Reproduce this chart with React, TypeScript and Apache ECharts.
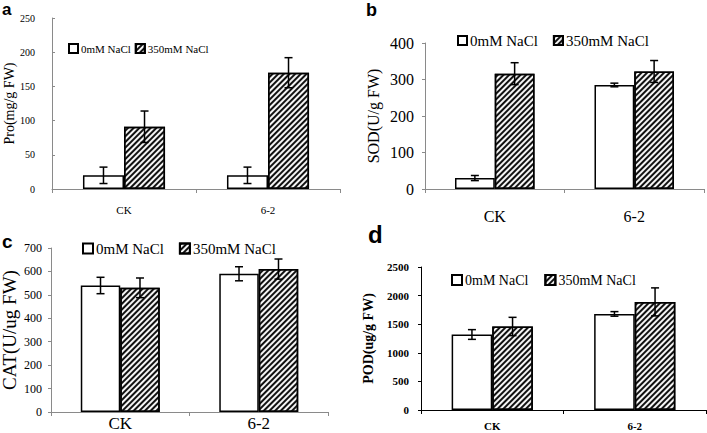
import React, { useEffect, useRef } from "react";
import * as echarts from "echarts";

const categories = ["CK", "6-2"];
const seriesNames = ["0mM NaCl", "350mM NaCl"];

const proCtrl = [20, 20];
const proSalt = [91, 170];
const proCtrlErr = [12, 12];
const proSaltErr = [23, 22];

const sodCtrl = [30, 285];
const sodSalt = [316, 322];
const sodCtrlErr = [7, 5];
const sodSaltErr = [30, 30];

const catCtrl = [540, 590];
const catSalt = [530, 610];
const catCtrlErr = [35, 30];
const catSaltErr = [42, 43];

const podCtrl = [1320, 1680];
const podSalt = [1460, 1890];
const podCtrlErr = [85, 40];
const podSaltErr = [160, 245];

const yMax = [250, 400, 700, 2500];
const yInterval = [50, 100, 100, 500];
const yNames = ["Pro(mg/g FW)", "SOD(U/g FW)", "CAT(U/ug FW)", "POD(ug/g FW)"];
const panelLetters = ["a", "b", "c", "d"];

const SERIF = "'Liberation Serif', 'Times New Roman', serif";
const SANS = "'Liberation Sans', Arial, sans-serif";
const barFrac = 0.285;

const panels = [
  {
    ctrl: proCtrl, salt: proSalt, ctrlErr: proCtrlErr, saltErr: proSaltErr,
    grid: { left: 52, top: 18, width: 288, height: 171 },
    axisColor: "#8a8a8a", tickInside: true, tickFont: 10, tickWeight: "normal", labelMargin: 17,
    catFont: 11, catWeight: "normal", catMargin: 15,
    nameFont: 14, nameWeight: "normal", nameGap: 36,
    legend: { left: 68, top: 43, font: 11, gap: 4, weight: "normal", iw: 9 },
    letter: { x: 2, y: 1, size: 17 },
  },
  {
    ctrl: sodCtrl, salt: sodSalt, ctrlErr: sodCtrlErr, saltErr: sodSaltErr,
    grid: { left: 425, top: 43, width: 279, height: 146 },
    axisColor: "#8a8a8a", tickInside: false, tickFont: 16, tickWeight: "normal", labelMargin: 11,
    catFont: 16, catWeight: "normal", catMargin: 19,
    nameFont: 16, nameWeight: "normal", nameGap: 44,
    legend: { left: 457, top: 33, font: 15, gap: 15, weight: "normal", iw: 9 },
    letter: { x: 366, y: 1, size: 18 },
  },
  {
    ctrl: catCtrl, salt: catSalt, ctrlErr: catCtrlErr, saltErr: catSaltErr,
    grid: { left: 51, top: 248, width: 277, height: 164 },
    axisColor: "#8a8a8a", tickInside: false, tickFont: 12, tickWeight: "normal", labelMargin: 9,
    catFont: 17, catWeight: "normal", catMargin: 3,
    nameFont: 19, nameWeight: "normal", nameGap: 32,
    legend: { left: 82, top: 241, font: 15, gap: 15, weight: "normal", iw: 10 },
    letter: { x: 2, y: 232, size: 19 },
  },
  {
    ctrl: podCtrl, salt: podSalt, ctrlErr: podCtrlErr, saltErr: podSaltErr,
    grid: { left: 421, top: 267, width: 285, height: 143 },
    axisColor: "#000", tickInside: false, tickFont: 11, tickWeight: "bold", labelMargin: 12,
    catFont: 11, catWeight: "bold", catMargin: 10,
    nameFont: 14, nameWeight: "bold", nameGap: 46,
    legend: { left: 451, top: 273, font: 14, gap: 16, weight: "normal", iw: 10 },
    letter: { x: 368, y: 222, size: 24 },
  },
];

function errRenderItem(params: any, api: any) {
  const cat = api.value(0);
  const mean = api.value(1);
  const err = api.value(2);
  const which = api.value(3);
  const band = api.size([1, 0])[0];
  const off = (which === 0 ? -1 : 1) * band * barFrac / 2;
  const top = api.coord([cat, mean + err]);
  const bot = api.coord([cat, mean - err]);
  const x = top[0] + off;
  const cap = 4;
  const style = { stroke: "#000", lineWidth: 1.5 };
  return {
    type: "group",
    children: [
      { type: "line", shape: { x1: x, y1: top[1], x2: x, y2: bot[1] }, style },
      { type: "line", shape: { x1: x - cap, y1: top[1], x2: x + cap, y2: top[1] }, style },
      { type: "line", shape: { x1: x - cap, y1: bot[1], x2: x + cap, y2: bot[1] }, style },
    ],
  };
}

function buildOption() {
  const grids: any[] = [];
  const xAxes: any[] = [];
  const yAxes: any[] = [];
  const series: any[] = [];
  const legends: any[] = [];
  const graphics: any[] = [];

  panels.forEach((p, i) => {
    grids.push({ ...p.grid, containLabel: false, outerBoundsMode: "none" });
    xAxes.push({
      type: "category",
      gridIndex: i,
      data: categories,
      axisLine: { show: true, lineStyle: { color: p.axisColor, width: 1 } },
      axisTick: { show: true, length: 4, lineStyle: { color: p.axisColor } },
      axisLabel: {
        color: "#000", fontFamily: SERIF, fontSize: p.catFont,
        fontWeight: p.catWeight, margin: p.catMargin,
      },
    });
    yAxes.push({
      type: "value",
      gridIndex: i,
      min: 0,
      max: yMax[i],
      interval: yInterval[i],
      splitLine: { show: false },
      axisLine: { show: true, lineStyle: { color: p.axisColor, width: 1 } },
      axisTick: { show: true, inside: p.tickInside, length: 3, lineStyle: { color: p.axisColor } },
      axisLabel: {
        color: "#000", fontFamily: SERIF, fontSize: p.tickFont,
        fontWeight: p.tickWeight, margin: p.labelMargin,
        formatter: (v: number) => String(v),
      },
      name: yNames[i],
      nameLocation: "middle",
      nameGap: p.nameGap,
      nameTextStyle: {
        color: "#000", fontFamily: SERIF, fontSize: p.nameFont, fontWeight: p.nameWeight,
      },
    });
    series.push({
      type: "bar",
      name: seriesNames[0],
      xAxisIndex: i,
      yAxisIndex: i,
      data: p.ctrl,
      barWidth: (barFrac * 100) + "%",
      barGap: "0%",
      itemStyle: { color: "#fff", borderColor: "#000", borderWidth: 1.5 },
    });
    series.push({
      type: "bar",
      name: seriesNames[1],
      xAxisIndex: i,
      yAxisIndex: i,
      data: p.salt,
      barWidth: (barFrac * 100) + "%",
      barGap: "0%",
      itemStyle: {
        color: "#f4f4f4", borderColor: "#000", borderWidth: 1.5,
        decal: {
          symbol: "rect", symbolSize: 1, dashArrayX: [1, 0], dashArrayY: [2, 2],
          rotation: -Math.PI / 4, color: "#111",
        },
      },
    });
    const rows: number[][] = [];
    categories.forEach((_, c) => {
      rows.push([c, p.ctrl[c], p.ctrlErr[c], 0]);
      rows.push([c, p.salt[c], p.saltErr[c], 1]);
    });
    series.push({
      type: "custom",
      name: "error" + i,
      xAxisIndex: i,
      yAxisIndex: i,
      data: rows,
      encode: { x: 0, y: 1 },
      renderItem: errRenderItem,
      z: 10,
      silent: true,
    });
    legends.push({
      show: true,
      left: p.legend.left,
      top: p.legend.top,
      orient: "horizontal",
      icon: "rect",
      itemWidth: p.legend.iw,
      itemHeight: p.legend.iw,
      itemGap: p.legend.gap,
      padding: 0,
      selectedMode: false,
      data: seriesNames,
      textStyle: {
        color: "#000", fontFamily: SERIF, fontSize: p.legend.font,
        fontWeight: p.legend.weight, padding: [0, 0, 0, -2],
      },
    });
    graphics.push({
      type: "text",
      left: p.letter.x,
      top: p.letter.y,
      style: {
        text: panelLetters[i],
        font: `bold ${p.letter.size}px ${SANS}`,
        fill: "#000",
      },
    });
  });

  return {
    animation: false,
    backgroundColor: "#fff",
    grid: grids,
    xAxis: xAxes,
    yAxis: yAxes,
    legend: legends,
    series,
    graphic: graphics,
  };
}

export default function App() {
  const ref = useRef<HTMLDivElement>(null);
  useEffect(() => {
    if (!ref.current) return;
    const chart = echarts.init(ref.current, undefined, { renderer: "svg" });
    chart.setOption(buildOption() as any);
    return () => chart.dispose();
  }, []);
  return (
    <div
      ref={ref}
      style={{ position: "fixed", left: 0, top: 0, width: 707, height: 433, background: "#fff" }}
    />
  );
}
